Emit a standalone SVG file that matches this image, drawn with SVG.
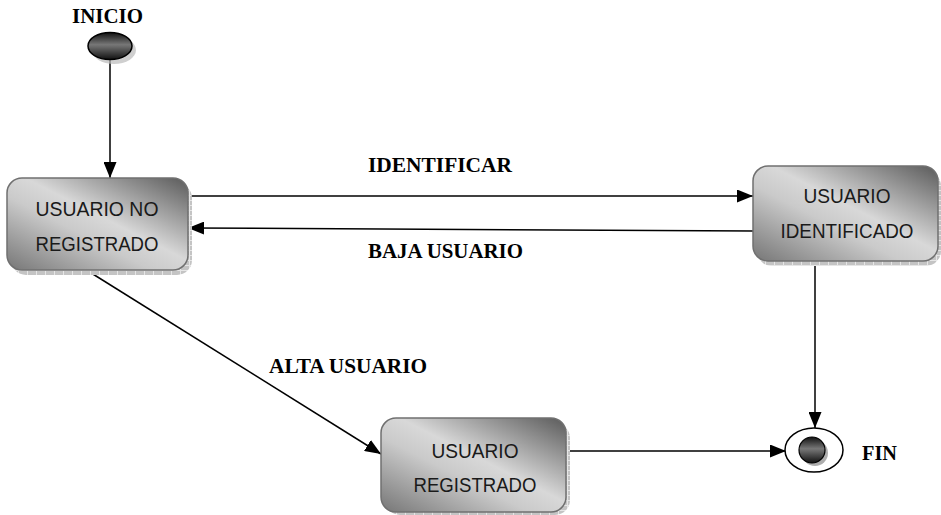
<svg xmlns="http://www.w3.org/2000/svg" width="941" height="515" viewBox="0 0 941 515">
<defs>
<linearGradient id="boxg" x1="1" y1="0" x2="0" y2="1">
<stop offset="0" stop-color="#5a5a5a"/>
<stop offset="0.45" stop-color="#d8d8d8"/>
<stop offset="0.6" stop-color="#cacaca"/>
<stop offset="1" stop-color="#767676"/>
</linearGradient>
<linearGradient id="dotg" x1="0" y1="0" x2="0" y2="1">
<stop offset="0" stop-color="#111"/>
<stop offset="0.45" stop-color="#777"/>
<stop offset="0.55" stop-color="#666"/>
<stop offset="1" stop-color="#111"/>
</linearGradient>
<pattern id="grid" width="9" height="5" patternUnits="userSpaceOnUse">
<rect width="9" height="5" fill="#c4c4c4"/>
<path d="M0 0.5H9M0.5 0V5" stroke="#e6e6e6" stroke-width="1"/>
</pattern>
<marker id="arr" viewBox="0 0 16 13" refX="16" refY="6.5" markerWidth="16" markerHeight="13" markerUnits="userSpaceOnUse" orient="auto">
<path d="M0 0L16 6.5L0 13Z" fill="#000"/>
</marker>
</defs>
<style>
.box{fill:url(#boxg);stroke:#707070;stroke-width:1.5}
.shd{fill:url(#grid)}
.nt{font-family:"Liberation Sans",Arial,sans-serif;font-size:20px;fill:#1a1a1a;text-anchor:middle}
.lb{font-family:"Liberation Serif","Times New Roman",serif;font-weight:bold;font-size:20px;fill:#000}
.cn{stroke:#000;stroke-width:1.5;fill:none}
</style>

<g id="connectors">
<line class="cn" x1="110" y1="60" x2="110" y2="178" marker-end="url(#arr)"/>
<line class="cn" x1="188" y1="196" x2="753" y2="196" marker-end="url(#arr)"/>
<line class="cn" x1="753" y1="231" x2="188" y2="228" marker-end="url(#arr)"/>
<line class="cn" x1="88" y1="271" x2="381" y2="454" marker-end="url(#arr)"/>
<line class="cn" x1="815" y1="262" x2="815" y2="428" marker-end="url(#arr)"/>
<line class="cn" x1="566" y1="451" x2="786" y2="451" marker-end="url(#arr)"/>
<text class="lb" x="368" y="172" textLength="144" lengthAdjust="spacingAndGlyphs">IDENTIFICAR</text>
<text class="lb" x="368" y="258" textLength="155" lengthAdjust="spacingAndGlyphs">BAJA USUARIO</text>
<text class="lb" x="269" y="373" textLength="158" lengthAdjust="spacingAndGlyphs">ALTA USUARIO</text>
</g>

<g id="inicio">
<ellipse cx="114" cy="50" rx="22" ry="14" fill="#bbb" opacity="0.7"/>
<ellipse cx="110" cy="46" rx="22" ry="13.5" fill="url(#dotg)" stroke="#000" stroke-width="1.5"/>
<text class="lb" x="72" y="23" textLength="71" lengthAdjust="spacingAndGlyphs">INICIO</text>
</g>

<g id="no-registrado">
<rect class="shd" x="11" y="183" width="181" height="92" rx="15"/>
<rect class="box" x="7" y="178" width="181" height="92" rx="15"/>
<text class="nt" x="97" y="216" textLength="123" lengthAdjust="spacingAndGlyphs">USUARIO NO</text>
<text class="nt" x="97" y="251" textLength="123" lengthAdjust="spacingAndGlyphs">REGISTRADO</text>
</g>

<g id="identificado">
<rect class="shd" x="757" y="171" width="184" height="95" rx="15"/>
<rect class="box" x="753" y="166" width="185" height="95" rx="15"/>
<text class="nt" x="847" y="203" textLength="87" lengthAdjust="spacingAndGlyphs">USUARIO</text>
<text class="nt" x="847" y="238" textLength="133" lengthAdjust="spacingAndGlyphs">IDENTIFICADO</text>
</g>

<g id="registrado">
<rect class="shd" x="385" y="423" width="185" height="92" rx="15"/>
<rect class="box" x="381" y="418" width="185" height="94" rx="15"/>
<text class="nt" x="475" y="458" textLength="87" lengthAdjust="spacingAndGlyphs">USUARIO</text>
<text class="nt" x="475" y="492" textLength="123" lengthAdjust="spacingAndGlyphs">REGISTRADO</text>
</g>

<g id="fin">
<ellipse cx="814" cy="450" rx="29" ry="22" fill="#fff" stroke="#000" stroke-width="1.5"/>
<circle cx="815" cy="453" r="13" fill="#999" opacity="0.8"/>
<circle cx="812" cy="450" r="13" fill="url(#dotg)" stroke="#000" stroke-width="1.2"/>
<text class="lb" x="862" y="460" textLength="35" lengthAdjust="spacingAndGlyphs">FIN</text>
</g>
</svg>
